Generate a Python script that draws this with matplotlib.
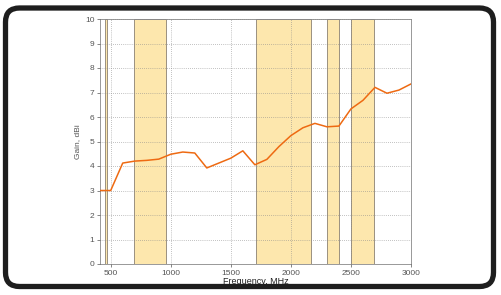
import matplotlib
matplotlib.use("Agg")
import matplotlib.pyplot as plt
from matplotlib.patches import FancyBboxPatch

freq = [410, 500, 600, 700, 800, 900, 1000, 1100, 1200, 1300, 1400, 1500, 1600, 1700,
        1800, 1900, 2000, 2100, 2200, 2300, 2400, 2500, 2600, 2700, 2800, 2900, 3000]
gain = [3.0, 3.0, 4.12, 4.2, 4.23, 4.28, 4.48, 4.57, 4.53, 3.92, 4.12, 4.32, 4.62, 4.05,
        4.27, 4.79, 5.24, 5.56, 5.74, 5.6, 5.63, 6.33, 6.68, 7.21, 6.97, 7.1, 7.35]
bands = [(450, 470), (698, 960), (1710, 2170), (2300, 2400), (2500, 2690)]
xticks = [500, 1000, 1500, 2000, 2500, 3000]
yticks = list(range(0, 11))

plt.rcParams['font.family'] = ['Liberation Sans', 'DejaVu Sans']

fig = plt.figure(figsize=(5.01, 2.95), dpi=100)

# rounded frame
frame = FancyBboxPatch((5.5 / 501, 8.5 / 295), 488 / 501, 278.5 / 295,
                       boxstyle="round,pad=0,rounding_size=0.028",
                       transform=fig.transFigure, facecolor='white',
                       edgecolor='#1e1e1e', linewidth=3.8, zorder=-5,
                       mutation_aspect=501 / 295)
fig.patches.append(frame)

ax = fig.add_axes([99.9 / 501, 31 / 295, 311.1 / 501, 245 / 295])
ax.set_zorder(2)
ax.set_facecolor('white')
for lo, hi in bands:
    ax.axvspan(lo, hi, facecolor='#fde7ad', edgecolor='#9a9080', linewidth=0.7, zorder=1)

ax.plot(freq, gain, color='#ee6a12', linewidth=1.1, zorder=3)

ax.set_xlim(410, 3000)
ax.set_ylim(0, 10)
ax.set_xticks(xticks)
ax.set_yticks(yticks)
ax.grid(True, color='#888888', linestyle=(0, (1, 2)), linewidth=0.5, zorder=2)
ax.set_axisbelow(False)
ax.tick_params(axis='both', labelsize=6, colors='#555555', length=2, width=0.5,
               direction='out', pad=2)
for s in ax.spines.values():
    s.set_color('#888888')
    s.set_linewidth(0.6)
ax.set_xlabel('Frequency, MHz', fontsize=6.5, color='#222222', labelpad=0)
ax.set_ylabel('Gain, dBi', fontsize=6, color='#555555', labelpad=3)

fig.savefig('out.png', dpi=100)
